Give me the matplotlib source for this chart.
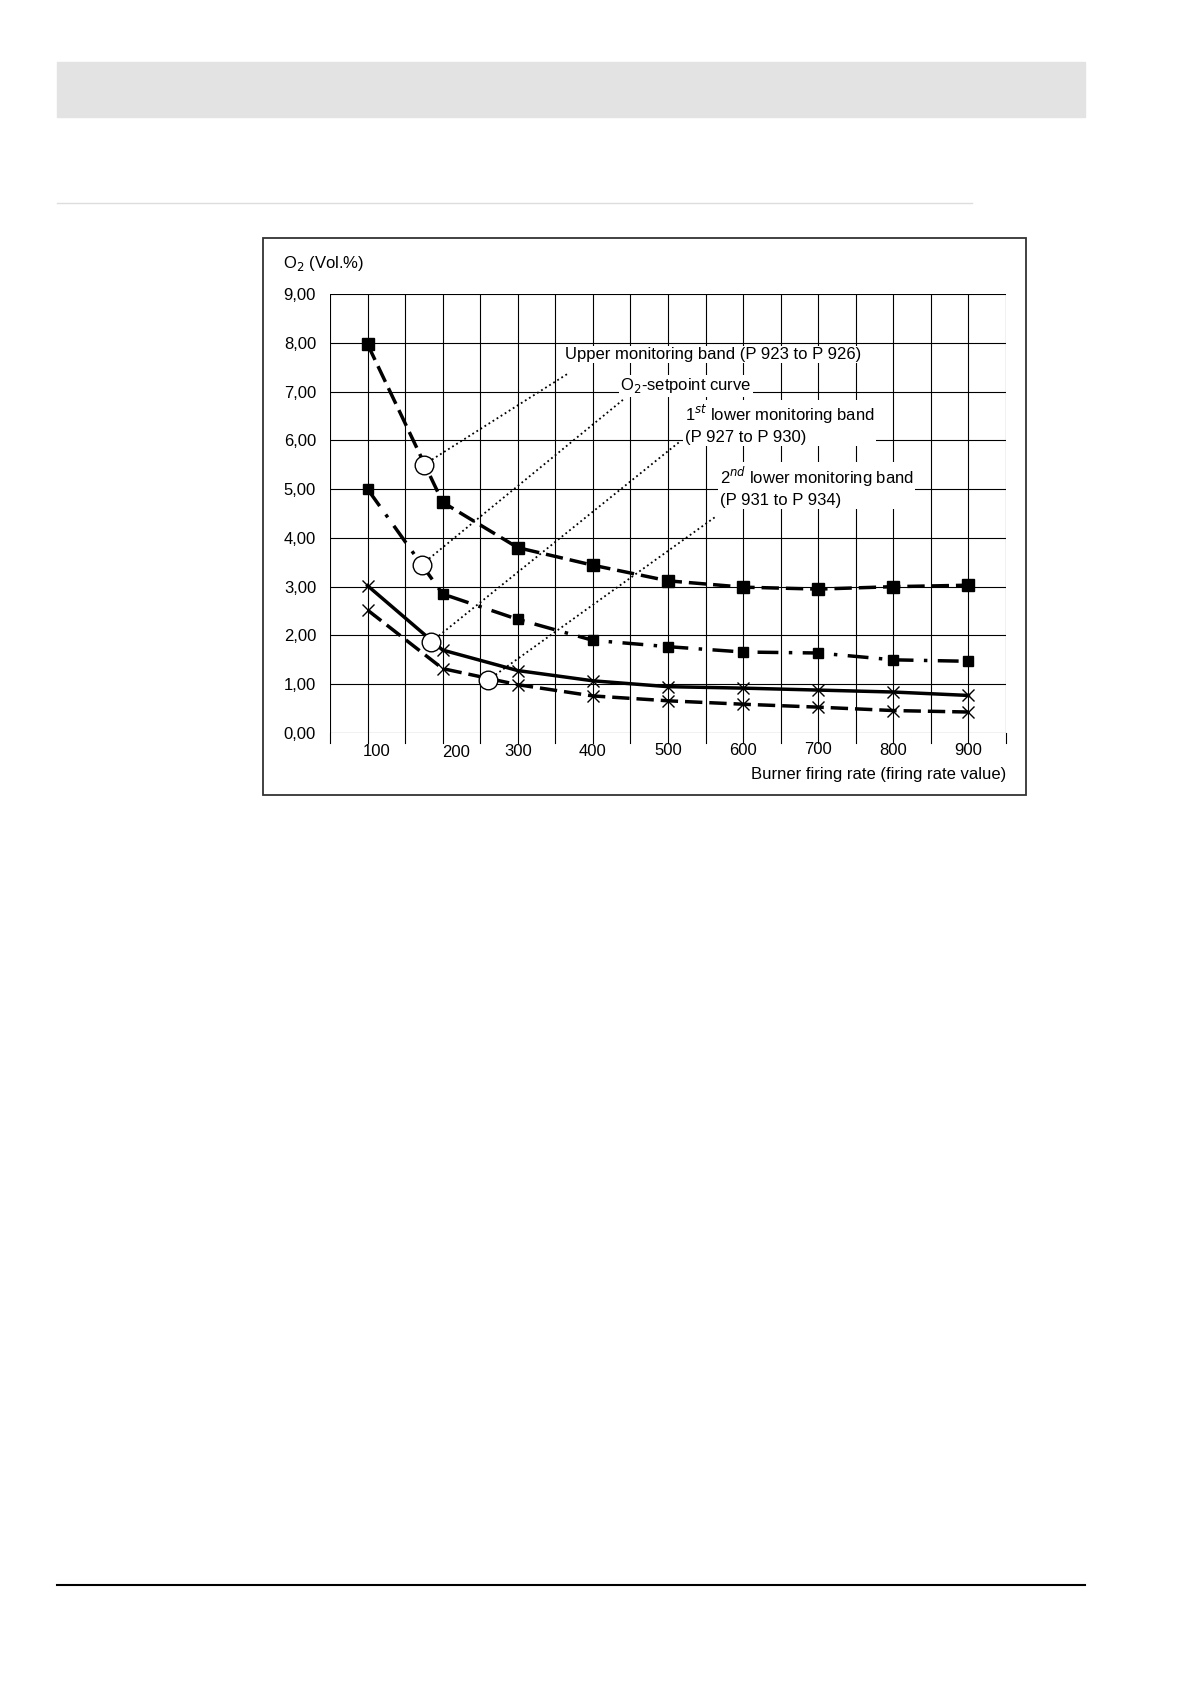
import matplotlib
matplotlib.use('Agg')
import matplotlib.pyplot as plt
from matplotlib.patches import Rectangle

rate = [100, 200, 300, 400, 500, 600, 700, 800, 900]
upper_band = [7.97, 4.73, 3.80, 3.44, 3.12, 2.99, 2.95, 3.00, 3.03]
setpoint = [5.00, 2.85, 2.33, 1.90, 1.77, 1.66, 1.64, 1.50, 1.47]
lower_band_1 = [3.02, 1.70, 1.28, 1.07, 0.95, 0.92, 0.88, 0.84, 0.77]
lower_band_2 = [2.52, 1.32, 0.99, 0.76, 0.66, 0.59, 0.53, 0.46, 0.43]
y_ticks = [0, 1, 2, 3, 4, 5, 6, 7, 8, 9]
y_labels = ['0,00', '1,00', '2,00', '3,00', '4,00', '5,00', '6,00', '7,00', '8,00', '9,00']
circle_x = [175, 172, 185, 260]
circle_y = [5.5, 3.45, 1.87, 1.08]
leader_end_x = [368, 440, 517, 563]
leader_end_y = [7.38, 6.83, 5.99, 4.43]

W, H = 1190, 1684
fig = plt.figure(figsize=(W / 100, H / 100), dpi=100)

# page decorations
fig.patches.append(Rectangle((57 / W, 1 - 117 / H), 1028 / W, 55 / H,
                             transform=fig.transFigure, color='#e3e3e3', zorder=0))
fig.add_artist(plt.Line2D([57 / W, 972 / W], [1 - 203 / H] * 2, color='#dddddd', lw=1))
fig.add_artist(plt.Line2D([57 / W, 1085 / W], [1 - 1585 / H] * 2, color='black', lw=1.5))
fig.patches.append(Rectangle((263 / W, 1 - 795 / H), 763 / W, 557 / H, transform=fig.transFigure,
                             fill=False, ec='#333333', lw=1.3))

ax = fig.add_axes([330 / W, 1 - 733 / H, 676 / W, 439 / H])
ax.set_xlim(50, 950)
ax.set_ylim(0, 9)
for xv in range(50, 951, 50):
    ax.axvline(xv, color='black', lw=0.8, zorder=1)
for yv in y_ticks:
    ax.axhline(yv, color='black', lw=0.8, zorder=1)
for s in ax.spines.values():
    s.set_visible(False)
ax.set_xticks([])
ax.set_yticks(y_ticks)
ax.set_yticklabels(y_labels, fontsize=12, family='Liberation Sans')
ax.tick_params(axis='y', length=0, pad=10)
for xv in range(50, 951, 50):
    ax.plot([xv, xv], [0, -0.2], color='black', lw=0.8, clip_on=False)

xlab_offsets = [0, 10, 0, 0, 0, 0, 0, 0, 0]
xlab_y = [-0.38, -0.4, -0.38, -0.38, -0.35, -0.36, -0.33, -0.36, -0.36]
for xv, dx, yy in zip(rate, [12, 18, 0, 0, 0, 0, 0, 0, 0], xlab_y):
    ax.text(xv + dx, yy, str(xv), ha='center', va='center', fontsize=12, family='Liberation Sans')
ax.text(950, -0.85, 'Burner firing rate (firing rate value)', ha='right', va='center',
        fontsize=12, family='Liberation Sans')
ax.text(-0.07, 1.06, r'O$_2$ (Vol.%)', transform=ax.transAxes, fontsize=12, family='Liberation Sans')

ax.plot(rate, upper_band, color='black', lw=2.5, ls=(0, (5, 2)), marker='s', ms=8, zorder=3)
ax.plot(rate, setpoint, color='black', lw=2.5, ls=(0, (6, 3, 1, 3)), marker='s', ms=7, zorder=3)
ax.plot(rate, lower_band_1, color='black', lw=2.5, marker='x', ms=8, mew=1, zorder=3)
ax.plot(rate, lower_band_2, color='black', lw=2.5, ls=(0, (5, 2)), marker='x', ms=8, mew=1, zorder=3)

for cx, cy, lx, ly in zip(circle_x, circle_y, leader_end_x, leader_end_y):
    ax.plot([cx, lx], [cy, ly], color='black', lw=1.3, ls=':', zorder=4)
ax.scatter(circle_x, circle_y, s=180, facecolor='white', edgecolor='black', lw=1, zorder=6)

bg = dict(facecolor='white', edgecolor='none', pad=1)
kw = dict(fontsize=12, family='Liberation Sans', ha='left', va='center', zorder=5, bbox=bg)
ax.text(363, 7.76, 'Upper monitoring band (P 923 to P 926)', **kw)
ax.text(436, 7.12, r'O$_2$-setpoint curve', **kw)
ax.text(522, 6.34, '1$^{st}$ lower monitoring band\n(P 927 to P 930)', linespacing=1.3, **kw)
ax.text(569, 5.05, '2$^{nd}$ lower monitoring band\n(P 931 to P 934)', linespacing=1.3, **kw)

fig.savefig('out.png', dpi=100)
